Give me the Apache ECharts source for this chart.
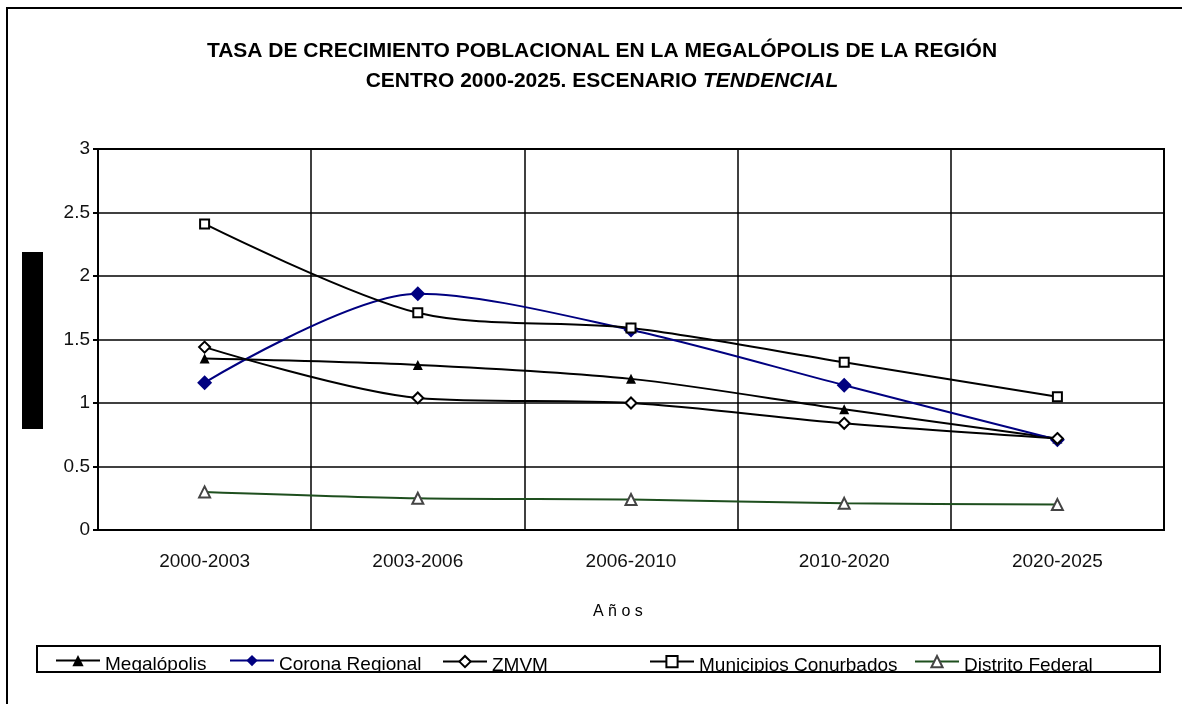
<!DOCTYPE html>
<html>
<head>
<meta charset="utf-8">
<script src="https://cdn.jsdelivr.net/npm/echarts@6/dist/echarts.min.js"></script>
<style>
html, body { margin: 0; padding: 0; background: #fff; }
#main { width: 1182px; height: 704px; }
</style>
</head>
<body>
<div id="main"></div>
<script>
// datos
let periodos = ['2000-2003', '2003-2006', '2006-2010', '2010-2020', '2020-2025']
let megalopolis = [1.35, 1.30, 1.19, 0.95, 0.72]
let coronaRegional = [1.16, 1.86, 1.575, 1.14, 0.71]
let zmvm = [1.44, 1.04, 1.00, 0.84, 0.72]
let municipiosConurbados = [2.41, 1.71, 1.59, 1.32, 1.05]
let distritoFederal = [0.30, 0.25, 0.24, 0.21, 0.20]
let yTicks = [0, 0.5, 1, 1.5, 2, 2.5, 3]

let myChart = echarts.init(document.getElementById('main'))

const FONT = '"Liberation Sans", Arial, sans-serif'

function legendAt(name, left) {
	return {
		data: [name],
		left: left,
		top: 655,
		itemWidth: 44,
		itemHeight: 14,
		itemGap: 0,
		padding: 0,
		formatter: '{t|{name}}',
		textStyle: {
			fontFamily: FONT, fontSize: 19, color: '#000',
			rich: { t: { fontFamily: FONT, fontSize: 19, color: '#000', padding: [9, 0, 0, 0] } }
		}
	}
}

let option = {
	backgroundColor: '#fff',
	animation: false,
	title: {
		left: 597,
		top: 31,
		textAlign: 'center',
		text: '{b|TASA DE CRECIMIENTO POBLACIONAL EN LA MEGALÓPOLIS DE LA REGIÓN}\n{b|CENTRO 2000-2025. ESCENARIO }{i|TENDENCIAL}',
		textStyle: {
			rich: {
				b: { fontFamily: FONT, fontSize: 21, fontWeight: 'bold', color: '#000', lineHeight: 30 },
				i: { fontFamily: FONT, fontSize: 21, fontWeight: 'bold', fontStyle: 'italic', color: '#000', lineHeight: 30 }
			}
		}
	},
	legend: [
		legendAt('Megalópolis', 55),
		legendAt('Corona Regional', 229),
		legendAt('ZMVM', 442),
		legendAt('Municipios Conurbados', 649),
		legendAt('Distrito Federal', 914)
	],
	grid: {
		left: 98, right: 18, top: 149, bottom: 174,
		show: true, borderColor: '#000', borderWidth: 2, backgroundColor: 'transparent'
	},
	xAxis: {
		type: 'category',
		data: periodos,
		boundaryGap: true,
		axisLine: { lineStyle: { color: '#000', width: 2 } },
		axisTick: { show: false },
		axisLabel: { fontFamily: FONT, fontSize: 19, color: '#111', margin: 22 },
		splitLine: { show: true, lineStyle: { color: '#000', width: 1.5 } }
	},
	yAxis: {
		type: 'value',
		min: yTicks[0],
		max: yTicks[yTicks.length - 1],
		interval: 0.5,
		axisLine: { show: true, lineStyle: { color: '#000', width: 2 } },
		axisTick: { show: true, length: 5, lineStyle: { color: '#000', width: 2 } },
		axisLabel: { fontFamily: FONT, fontSize: 19, color: '#111', margin: 8 },
		splitLine: { show: true, lineStyle: { color: '#000', width: 1.5 } }
	},
	graphic: [
		// marco exterior
		{ type: 'rect', z: 100, shape: { x: 7, y: 8, width: 1200, height: 720 }, style: { fill: 'none', stroke: '#000', lineWidth: 2 } },
		// barra negra (titulo del eje)
		{ type: 'rect', z: 100, shape: { x: 22, y: 252, width: 21, height: 177 }, style: { fill: '#000' } },
		// recorte de la etiqueta 0
		{ type: 'rect', z: 100, shape: { x: 50, y: 536, width: 44, height: 10 }, style: { fill: '#fff' } },
		{ type: 'text', z: 100, left: 593, top: 604, style: { text: 'A ñ o s', font: '16px "Liberation Sans", Arial, sans-serif', fill: '#000' } },
		// caja de la leyenda
		{ type: 'rect', z: 101, shape: { x: 37, y: 673, width: 1126, height: 22 }, style: { fill: '#fff' } },
		{ type: 'rect', z: 102, shape: { x: 37, y: 646, width: 1123, height: 26 }, style: { fill: 'none', stroke: '#000', lineWidth: 2 } }
	],
	series: [
		{
			name: 'Megalópolis', type: 'line', data: megalopolis, smooth: 0.3,
			symbol: 'triangle', symbolSize: 10,
			lineStyle: { color: '#000', width: 2 },
			itemStyle: { color: '#000' }
		},
		{
			name: 'Corona Regional', type: 'line', data: coronaRegional, smooth: 0.3,
			symbol: 'diamond', symbolSize: 15,
			lineStyle: { color: '#000080', width: 2 },
			itemStyle: { color: '#000080' }
		},
		{
			name: 'ZMVM', type: 'line', data: zmvm, smooth: 0.3,
			symbol: 'emptyDiamond', symbolSize: 11,
			lineStyle: { color: '#000', width: 2 },
			itemStyle: { color: '#000', borderWidth: 2 }
		},
		{
			name: 'Municipios Conurbados', type: 'line', data: municipiosConurbados, smooth: 0.3,
			symbol: 'emptyRect', symbolSize: 9,
			lineStyle: { color: '#000', width: 2 },
			itemStyle: { color: '#000', borderWidth: 2 }
		},
		{
			name: 'Distrito Federal', type: 'line', data: distritoFederal, smooth: 0.3,
			symbol: 'emptyTriangle', symbolSize: 11,
			lineStyle: { color: '#1e4f1e', width: 2 },
			itemStyle: { color: '#444', borderWidth: 2 }
		}
	]
}

myChart.setOption(option)
window.onresize = myChart.resize
</script>
</body>
</html>
